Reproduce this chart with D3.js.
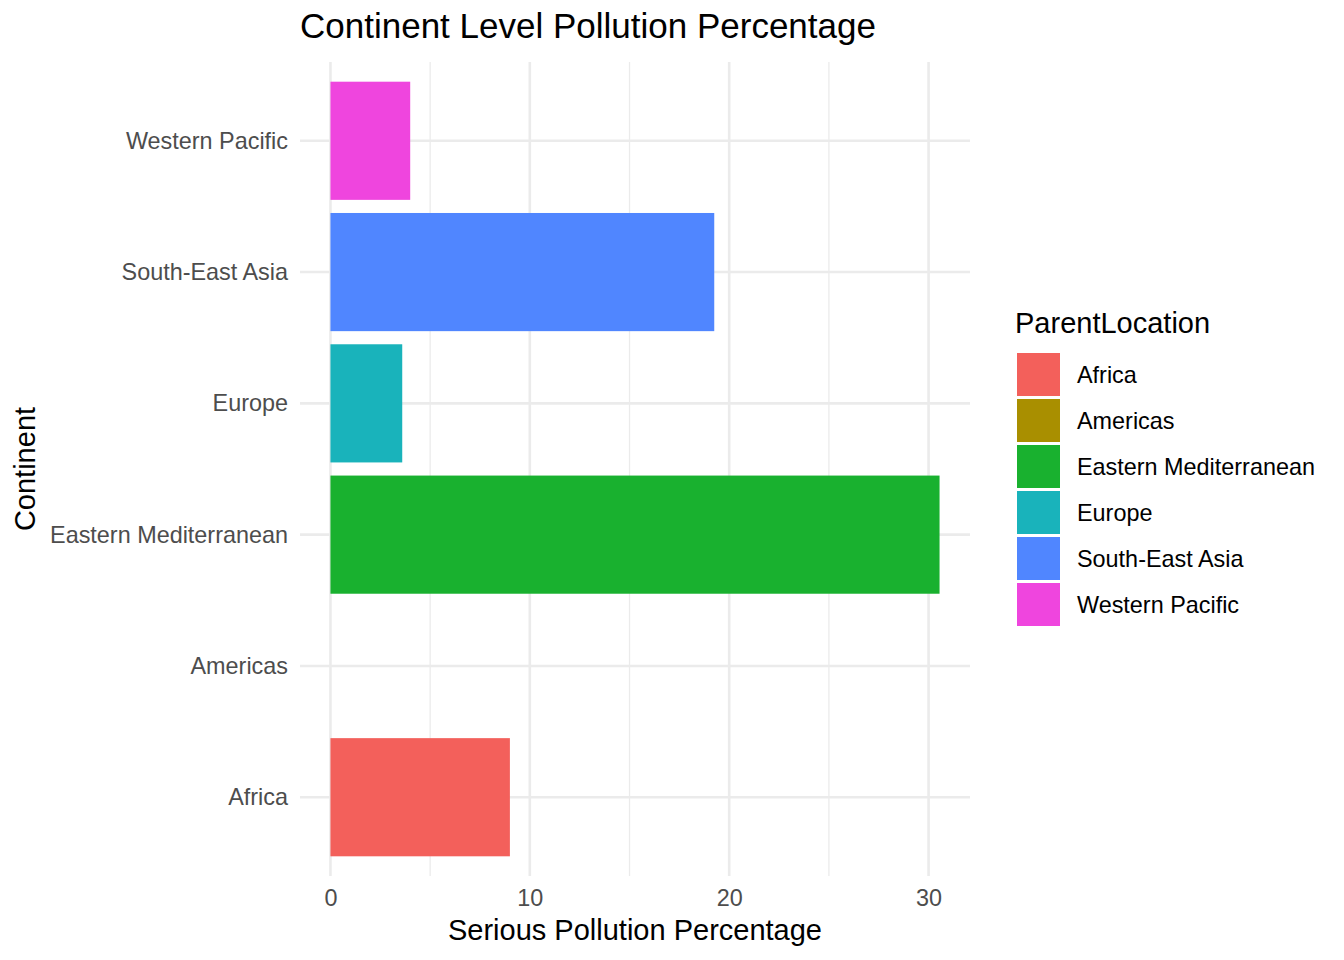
<!DOCTYPE html>
<html>
<head>
<meta charset="utf-8">
<script src="https://cdn.jsdelivr.net/npm/d3@7"></script>
<style>
  body { margin: 0; background: #fff; }
  text { font-family: "Liberation Sans", Arial, sans-serif; }
</style>
</head>
<body>
<svg id="chart"></svg>
<script>
// data
const continents = ['Africa', 'Americas', 'Eastern Mediterranean', 'Europe', 'South-East Asia', 'Western Pacific'];
const pollution = [9.0, 0, 30.55, 3.6, 19.25, 4.0];
const colors = ['#F3605B', '#A98F00', '#19B12F', '#19B3BB', '#5086FF', '#EF45DE'];
const xTicks = [0, 10, 20, 30];
const xMinor = [5, 15, 25];

const data = continents.map((c, i) => ({ name: c, value: pollution[i], color: colors[i] }));

const width = 1344, height = 960;
const panel = { left: 300, right: 970, top: 62, bottom: 876 };

const svg = d3.select('#chart')
  .attr('width', width)
  .attr('height', height);

// x scale with ggplot-style 5% expansion
const maxV = d3.max(pollution);
const pad = maxV * 0.05;
const xScale = d3.scaleLinear()
  .domain([-pad, maxV + pad])
  .range([panel.left, panel.right]);

// y: discrete, bottom to top, 0.6 units expansion each side
const step = (panel.bottom - panel.top) / (continents.length - 1 + 1.2);
const yScale = d3.scalePoint()
  .domain(continents)
  .range([panel.bottom - 0.6 * step, panel.top + 0.6 * step]);
const barH = step * 0.9;

// gridlines
const grid = svg.append('g');
grid.selectAll('.minor')
  .data(xMinor)
  .enter().append('line')
  .attr('x1', d => xScale(d)).attr('x2', d => xScale(d))
  .attr('y1', panel.top).attr('y2', panel.bottom)
  .attr('stroke', '#EBEBEB').attr('stroke-width', 1.3);
grid.selectAll('.major')
  .data(xTicks)
  .enter().append('line')
  .attr('x1', d => xScale(d)).attr('x2', d => xScale(d))
  .attr('y1', panel.top).attr('y2', panel.bottom)
  .attr('stroke', '#EBEBEB').attr('stroke-width', 2.6);
grid.selectAll('.hmajor')
  .data(continents)
  .enter().append('line')
  .attr('x1', panel.left).attr('x2', panel.right)
  .attr('y1', d => yScale(d)).attr('y2', d => yScale(d))
  .attr('stroke', '#EBEBEB').attr('stroke-width', 2.6);

// bars
svg.append('g').selectAll('rect')
  .data(data)
  .enter().append('rect')
  .attr('x', xScale(0))
  .attr('y', d => yScale(d.name) - barH / 2)
  .attr('width', d => xScale(d.value) - xScale(0))
  .attr('height', barH)
  .attr('fill', d => d.color);

// x axis labels
const xAxis = d3.axisBottom(xScale).tickValues(xTicks).tickSize(0).tickPadding(13);
const gx = svg.append('g')
  .attr('transform', `translate(0, ${panel.bottom})`)
  .call(xAxis);
gx.select('.domain').remove();
gx.selectAll('text')
  .attr('fill', '#4D4D4D')
  .style('font-size', '23.4px')
  .style('font-family', '"Liberation Sans", Arial, sans-serif');

// y axis labels
const yAxis = d3.axisLeft(yScale).tickSize(0).tickPadding(12);
const gy = svg.append('g')
  .attr('transform', `translate(${panel.left}, 0)`)
  .call(yAxis);
gy.select('.domain').remove();
gy.selectAll('text')
  .attr('fill', '#4D4D4D')
  .style('font-size', '23.4px')
  .style('font-family', '"Liberation Sans", Arial, sans-serif');

// titles
svg.append('text')
  .attr('x', panel.left)
  .attr('y', 38)
  .attr('font-size', 35)
  .attr('fill', '#000')
  .text('Continent Level Pollution Percentage');

svg.append('text')
  .attr('x', (panel.left + panel.right) / 2)
  .attr('y', 940)
  .attr('text-anchor', 'middle')
  .attr('font-size', 29)
  .text('Serious Pollution Percentage');

svg.append('text')
  .attr('transform', `translate(35, ${(panel.top + panel.bottom) / 2}) rotate(-90)`)
  .attr('text-anchor', 'middle')
  .attr('font-size', 29)
  .text('Continent');

// legend
const legend = svg.append('g')
  .attr('transform', 'translate(1017, 353)');
legend.append('text')
  .attr('x', -2)
  .attr('y', -20)
  .attr('font-size', 29)
  .text('ParentLocation');

const entries = legend.selectAll('.legend-entry')
  .data(data)
  .enter().append('g')
  .attr('class', 'legend-entry')
  .attr('transform', (d, i) => `translate(0, ${i * 46})`);
entries.append('rect')
  .attr('width', 43)
  .attr('height', 43)
  .attr('fill', d => d.color);
entries.append('text')
  .attr('x', 60)
  .attr('y', 22)
  .attr('dy', '0.35em')
  .attr('font-size', 23.4)
  .text(d => d.name);
</script>
</body>
</html>
